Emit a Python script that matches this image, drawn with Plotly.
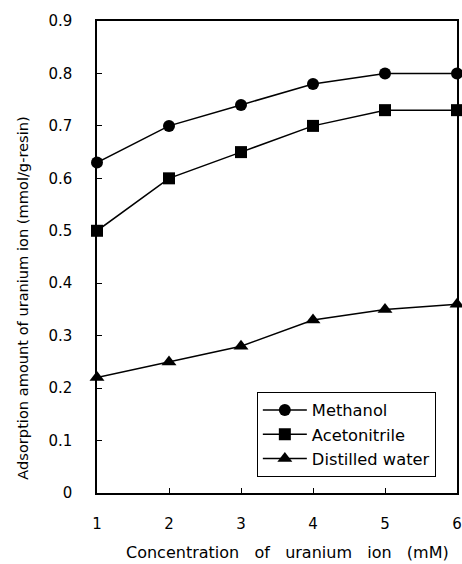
import plotly.graph_objects as go

conc = [1, 2, 3, 4, 5, 6]
methanol = [0.63, 0.70, 0.74, 0.78, 0.80, 0.80]
acetonitrile = [0.50, 0.60, 0.65, 0.70, 0.73, 0.73]
water = [0.22, 0.25, 0.28, 0.33, 0.35, 0.36]
y_ticks = [0, 0.1, 0.2, 0.3, 0.4, 0.5, 0.6, 0.7, 0.8, 0.9]
y_labels = ["0", "0.1", "0.2", "0.3", "0.4", "0.5", "0.6", "0.7", "0.8", "0.9"]

FONT = "DejaVu Sans, Arial, sans-serif"

fig = go.Figure()
series = [
    ("Methanol", methanol, "circle", 12),
    ("Acetonitrile", acetonitrile, "square", 12),
    ("Distilled water", water, "triangle-up", 13),
]
for name, vals, sym, sz in series:
    fig.add_trace(go.Scatter(
        x=conc, y=vals, name=name, mode="lines+markers",
        line=dict(color="black", width=1.5),
        marker=dict(symbol=sym, size=sz, color="black"),
        cliponaxis=False,
    ))

fig.update_layout(
    width=462, height=564,
    margin=dict(l=97, r=5, t=21, b=71),
    paper_bgcolor="white", plot_bgcolor="white",
    font=dict(family=FONT, size=14, color="black"),
    showlegend=True,
    legend=dict(
        x=0.444, y=0.214, xanchor="left", yanchor="top",
        bordercolor="black", borderwidth=1, bgcolor="white",
        font=dict(family=FONT, size=16.3, color="black"),
        tracegroupgap=0, itemwidth=44,
    ),
    annotations=[
        dict(text="Concentration   of   uranium   ion   (mM)",
             xref="paper", yref="paper", x=0.53, y=-0.125,
             xanchor="center", yanchor="middle", showarrow=False,
             font=dict(family=FONT, size=16)),
        dict(text="Adsorption amount of uranium ion (mmol/g-resin)",
             xref="paper", yref="paper", x=-0.208, y=0.412,
             xanchor="center", yanchor="middle", showarrow=False,
             textangle=-90, font=dict(family=FONT, size=14.6)),
    ],
)
fig.update_xaxes(
    range=[1, 6], tickvals=conc, ticktext=[str(c) for c in conc],
    ticks="inside", ticklen=5, tickcolor="black",
    showline=True, linecolor="black", linewidth=1.5, mirror=True,
    showgrid=False, zeroline=False, automargin=False,
    tickfont=dict(family=FONT, size=15),
    ticklabelstandoff=16,
)
fig.update_yaxes(
    range=[0, 0.9], tickvals=y_ticks, ticktext=y_labels,
    ticks="inside", ticklen=5, tickcolor="black",
    showline=True, linecolor="black", linewidth=1.5, mirror=True,
    showgrid=False, zeroline=False, automargin=False,
    tickfont=dict(family=FONT, size=15),
    ticklabelstandoff=20,
)

# remove the browser's default 8px body margin so the figure fills the window
fig.write_html("out.html", config={"displayModeBar": False},
               post_script="document.body.style.margin='0';")
